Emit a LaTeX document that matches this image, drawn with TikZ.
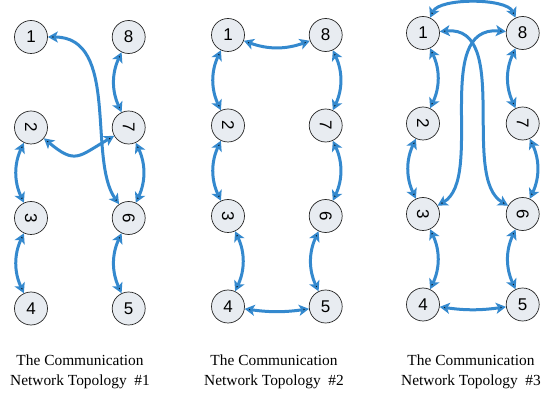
\documentclass[tikz,border=0pt]{standalone}
\usepackage{fontspec}
\setmainfont{Liberation Serif}
\newfontfamily\digitfont{Liberation Sans}
\usetikzlibrary{arrows.meta, automata, positioning}

\definecolor{linkblue}{RGB}{52,137,206}
\definecolor{nodefill}{RGB}{232,236,241}

\newcommand{\turned}[1]{\rotatebox{-90}{#1}}

\begin{document}
\begin{tikzpicture}[
            x=1pt, y=1pt,
            node distance = 90.5pt,
            link/.style={
                draw=linkblue,
                line width=3pt,
                {Stealth[length=10pt,width=11pt,inset=2.5pt]}-{Stealth[length=10pt,width=11pt,inset=2.5pt]}
            },
            caption/.style={align=center, font=\fontsize{15.4}{20}\selectfont}
        ]

        \tikzstyle{every state}=[
            draw=black!85,
            line width=0.7pt,
            circle,
            fill=nodefill,
            minimum size=33pt,
            inner sep=0pt,
            font=\digitfont\fontsize{17}{17}\selectfont
        ]

        \useasboundingbox (0,0) rectangle (557,399);

        % Topology #1
        \node[state] (a1) at (31,362) {1};
        \node[state] (a2) [below of=a1] {\turned{2}};
        \node[state] (a3) [below of=a2] {\turned{3}};
        \node[state] (a4) [below of=a3] {4};
        \node[state] (a8) [right=64pt of a1] {8};
        \node[state] (a7) [below of=a8] {\turned{7}};
        \node[state] (a6) [below of=a7] {\turned{6}};
        \node[state] (a5) [below of=a6] {5};
        \path[link] (a2) edge[bend right=25] (a3);
        \path[link] (a3) edge[bend right=25] (a4);
        \path[link] (a8) edge[bend right=25] (a7);
        \path[link] (a7) edge[bend left=25] (a6);
        \path[link] (a6) edge[bend right=25] (a5);
        \path[link] (a2) edge[out=-40, in=-150, looseness=1.5] (a7);
        \path[link] (a1) edge[out=0, in=125, out distance=72pt, in distance=55pt] (a6);

        % Topology #2
        \node[state] (b1) at (228,364) {1};
        \node[state] (b2) [below of=b1] {\turned{2}};
        \node[state] (b3) [below of=b2] {\turned{3}};
        \node[state] (b4) [below of=b3] {4};
        \node[state] (b8) [right=64pt of b1] {8};
        \node[state] (b7) [below of=b8] {\turned{7}};
        \node[state] (b6) [below of=b7] {\turned{6}};
        \node[state] (b5) [below of=b6] {5};
        \path[link] (b1) edge[bend right=20] (b8);
        \path[link] (b1) edge[bend right=25] (b2);
        \path[link] (b2) edge[bend right=25] (b3);
        \path[link] (b3) edge[bend left=25] (b4);
        \path[link] (b8) edge[bend left=25] (b7);
        \path[link] (b7) edge[bend left=25] (b6);
        \path[link] (b6) edge[bend right=25] (b5);
        \path[link] (b4) edge[bend right=8] (b5);

        % Topology #3
        \node[state] (c1) at (423,366) {1};
        \node[state] (c2) [below of=c1] {\turned{2}};
        \node[state] (c3) [below of=c2] {\turned{3}};
        \node[state] (c4) [below of=c3] {4};
        \node[state] (c8) [right=66pt of c1] {8};
        \node[state] (c7) [below of=c8] {\turned{7}};
        \node[state] (c6) [below of=c7] {\turned{6}};
        \node[state] (c5) [below of=c6] {5};
        \path[link] (c1) edge[out=65, in=115, out distance=22pt, in distance=22pt] (c8);
        \path[link] (c1) edge[bend left=25] (c2);
        \path[link] (c2) edge[bend right=25] (c3);
        \path[link] (c3) edge[bend left=25] (c4);
        \path[link] (c8) edge[bend right=25] (c7);
        \path[link] (c7) edge[bend left=25] (c6);
        \path[link] (c6) edge[bend right=25] (c5);
        \path[link] (c4) edge[bend right=8] (c5);
        \path[link] (c1) edge[out=5, in=150, out distance=72pt, in distance=55pt] (c6);
        \path[link] (c8) edge[out=175, in=30, out distance=75pt, in distance=55pt] (c3);

        % captions
        \node[caption] (cap1) at (80,27) {The Communication\\Network Topology~~\#1};
        \node[caption] (cap2) at (274,27) {The Communication\\Network Topology~~\#2};
        \node[caption] (cap3) at (471,27) {The Communication\\Network Topology~~\#3};

    \end{tikzpicture}
\end{document}
